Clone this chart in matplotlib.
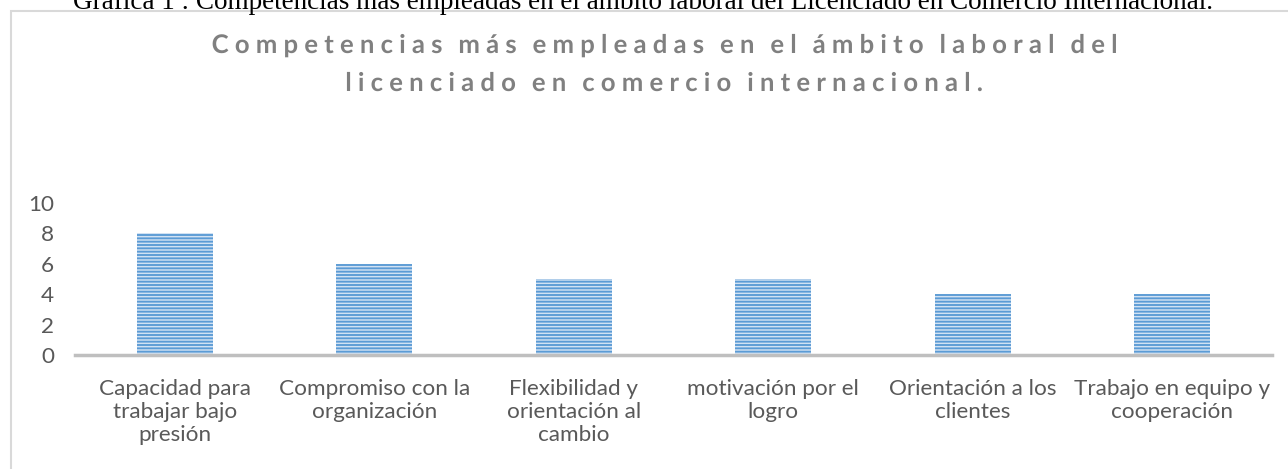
import numpy as np
import matplotlib
matplotlib.use("Agg")
import matplotlib.pyplot as plt
from matplotlib.patches import Rectangle
from matplotlib.patheffects import AbstractPathEffect
from matplotlib.path import Path

# ---------------- data ----------------
categories = [
    "Capacidad para\ntrabajar bajo\npresión",
    "Compromiso con la\norganización",
    "Flexibilidad y\norientación al\ncambio",
    "motivación por el\nlogro",
    "Orientación a los\nclientes",
    "Trabajo en equipo y\ncooperación",
]
values = [8, 6, 5, 5, 4, 4]
yticks = [0, 2, 4, 6, 8, 10]
title = "Competencias más empleadas en el ámbito laboral del\nlicenciado en comercio internacional."
caption = "Gráfica 1 : Competencias más empleadas en el ámbito laboral del Licenciado en Comercio Internacional."


class LetterSpacing(AbstractPathEffect):
    """Adds tracking between glyphs of a (centered) text."""

    def __init__(self, spacing_px, word_px=0.0):
        super().__init__()
        self.sp = spacing_px
        self.wsp = word_px

    def draw_path(self, renderer, gc, tpath, affine, rgbFace=None):
        codes = tpath.codes
        verts = np.array(tpath.vertices, dtype=float).copy()
        if codes is None or len(verts) == 0:
            renderer.draw_path(gc, tpath, affine, rgbFace)
            return
        scale = abs(affine.get_matrix()[0, 0]) or 1.0
        sp = self.sp / scale
        wsp = self.wsp / scale
        starts = list(np.where(codes == Path.MOVETO)[0]) + [len(verts)]
        groups = []
        for i in range(len(starts) - 1):
            a, b = starts[i], starts[i + 1]
            xs = verts[a:b, 0]
            x0, x1 = xs.min(), xs.max()
            if groups and x0 < groups[-1][1] - 1.0:
                g = groups[-1]
                g[0] = min(g[0], x0)
                g[1] = max(g[1], x1)
                g[2].append((a, b))
            else:
                groups.append([x0, x1, [(a, b)]])
        shift = 0.0
        shifts = []
        prev_x1 = None
        for g in groups:
            if prev_x1 is not None:
                shift += sp
                if g[0] - prev_x1 > 18.0:
                    shift += wsp
            shifts.append(shift)
            prev_x1 = g[1]
        total = shifts[-1] if shifts else 0.0
        for g, s in zip(groups, shifts):
            for a, b in g[2]:
                verts[a:b, 0] += s - total / 2.0
        renderer.draw_path(gc, Path(verts, codes), affine, rgbFace)


W, H = 1288, 469
fig = plt.figure(figsize=(W / 100, H / 100), dpi=100)
fig.patch.set_facecolor("white")

# chart frame
fig.patches.append(Rectangle((11 / W, -0.05), 1.2, (H - 11) / H + 0.05,
                             transform=fig.transFigure, fill=False,
                             edgecolor="#D9D9D9", linewidth=1.5))

ax = fig.add_axes([75 / W, (H - 355) / H, (1272 - 75) / W, (355 - 203) / H])

plt.rcParams["hatch.linewidth"] = 1.35
x = np.arange(len(categories))
ax.bar(x, values, width=0.38, color="#D2E2F3", edgecolor="#5B9BD5",
       linewidth=0, hatch="-----", zorder=2)

ax.set_xlim(-0.5, len(categories) - 0.5)
ax.set_ylim(0, 10)
ax.set_yticks(yticks)
ax.set_yticklabels([str(t) for t in yticks])
ax.set_xticks(x)
ax.set_xticklabels(categories, linespacing=1.2)

for lab in ax.get_xticklabels() + ax.get_yticklabels():
    lab.set_fontfamily("Lato")
    lab.set_fontsize(16.2)
    lab.set_color("#595959")
for lab in ax.get_xticklabels():
    lab.set_horizontalalignment("center")

ax.tick_params(axis="both", length=0)
ax.tick_params(axis="y", pad=15)
ax.tick_params(axis="x", pad=17)
for s in ["left", "right", "top"]:
    ax.spines[s].set_visible(False)
ax.spines["bottom"].set_color("#BFBFBF")
ax.spines["bottom"].set_linewidth(2.5)
ax.set_facecolor("none")

fig.text(665 / W, 1 - 64 / H, title, ha="center", va="center",
         fontsize=18.5, fontweight="bold", color="#808080", family="Lato",
         linespacing=1.7, path_effects=[LetterSpacing(6.2, 3.5)])

fig.text(643 / W, 1 - 9 / H, caption, ha="center", va="baseline",
         fontsize=19.5, color="black", family="Liberation Serif")

fig.savefig("out.png", dpi=100)
